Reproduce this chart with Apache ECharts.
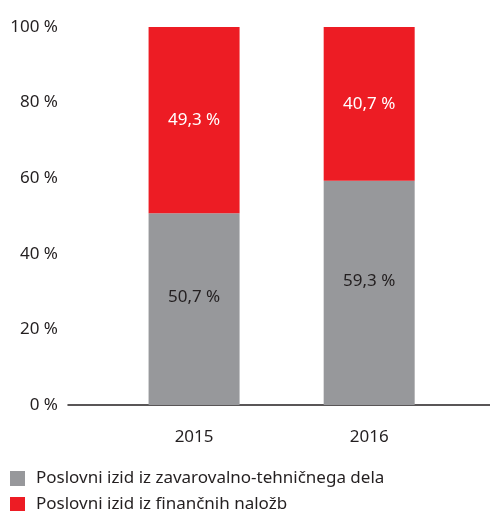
<!DOCTYPE html>
<html>
<head>
<meta charset="utf-8">
<script src="https://cdn.jsdelivr.net/npm/echarts@6/dist/echarts.min.js"></script>
<style>
  html, body { margin: 0; padding: 0; background: #ffffff; }
  #chart { width: 490px; height: 511px; }
</style>
</head>
<body>
<div id="chart"></div>
<script>
// podatki
const years = [2015, 2016];
const tehnicni = [50.7, 59.3];
const nalozbe = [49.3, 40.7];
const yTicks = [0, 20, 40, 60, 80, 100];
const seriesNames = ['Poslovni izid iz zavarovalno-tehničnega dela', 'Poslovni izid iz finančnih naložb'];

const textColor = '#231f20';
const font = 'Noto Sans';
const fs = 17;

// vejica namesto pike
const fmtPct = (v) => String(v).replace('.', ',') + ' %';

const myChart = echarts.init(document.getElementById('chart'), null, { renderer: 'canvas' });

const option = {
  animation: false,
  textStyle: { fontFamily: font },
  grid: { left: 68, right: 0, top: 27, bottom: 106 },
  legend: {
    orient: 'vertical',
    left: 5,
    top: 465,
    height: 60,
    itemWidth: 15,
    itemHeight: 15,
    itemGap: 9,
    icon: 'rect',
    textStyle: { color: textColor, fontSize: fs, lineHeight: 15, fontFamily: font, padding: [0, 0, 0, 6] },
    data: seriesNames
  },
  xAxis: {
    type: 'value',
    min: 2014.28,
    max: 2016.69,
    axisLine: { show: true, lineStyle: { color: textColor, width: 1.5 } },
    axisTick: { show: false },
    splitLine: { show: false },
    axisLabel: {
      customValues: years,
      formatter: (v) => String(v),
      color: textColor,
      fontSize: fs,
      margin: 24,
      fontFamily: font
    }
  },
  yAxis: {
    type: 'value',
    min: yTicks[0],
    max: yTicks[yTicks.length - 1],
    interval: 20,
    axisLine: { show: false },
    axisTick: { show: false },
    splitLine: { show: false },
    axisLabel: {
      formatter: '{value} %',
      color: textColor,
      fontSize: fs,
      margin: 10,
      fontFamily: font
    }
  },
  series: [
    {
      name: seriesNames[0],
      type: 'bar',
      stack: 'skupaj',
      barWidth: 91,
      // vrednost najprej, da se sešteva po y
      data: years.map((y, i) => [tehnicni[i], y]),
      encode: { x: 1, y: 0 },
      itemStyle: { color: '#97989b' },
      label: {
        show: true,
        position: 'inside',
        offset: [0, -12],
        color: textColor,
        fontSize: fs,
        fontFamily: font,
        formatter: (p) => fmtPct(p.value[0])
      }
    },
    {
      name: seriesNames[1],
      type: 'bar',
      stack: 'skupaj',
      barWidth: 91,
      data: years.map((y, i) => [nalozbe[i], y]),
      encode: { x: 1, y: 0 },
      itemStyle: { color: '#ed1c24' },
      label: {
        show: true,
        position: 'inside',
        color: '#ffffff',
        fontSize: fs,
        fontFamily: font,
        formatter: (p) => fmtPct(p.value[0])
      }
    }
  ]
};

myChart.setOption(option);
</script>
</body>
</html>
